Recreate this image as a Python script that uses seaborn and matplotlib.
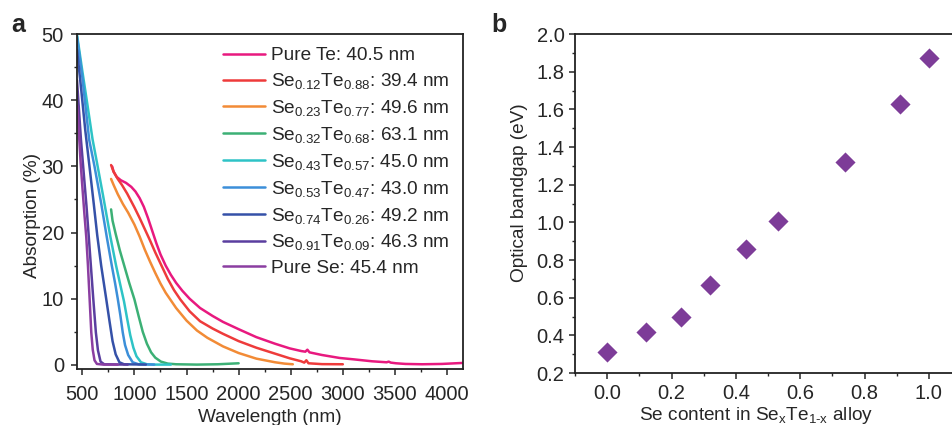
import numpy as np
import pandas as pd
import seaborn as sns
import matplotlib.pyplot as plt
from matplotlib.ticker import MultipleLocator

# ---- panel a: absorption spectra (wavelength in nm, absorption in %) ----
labels = [
    "Pure Te: 40.5 nm",
    r"Se$_{0.12}$Te$_{0.88}$: 39.4 nm",
    r"Se$_{0.23}$Te$_{0.77}$: 49.6 nm",
    r"Se$_{0.32}$Te$_{0.68}$: 63.1 nm",
    r"Se$_{0.43}$Te$_{0.57}$: 45.0 nm",
    r"Se$_{0.53}$Te$_{0.47}$: 43.0 nm",
    r"Se$_{0.74}$Te$_{0.26}$: 49.2 nm",
    r"Se$_{0.91}$Te$_{0.09}$: 46.3 nm",
    "Pure Se: 45.4 nm",
]
colors = ["#E8197F", "#EE3B3B", "#F28B36", "#3CB075", "#2EC3C6",
          "#3C8FD9", "#3551A8", "#5A3E9F", "#8B3EA1"]

te_wl = [786, 800, 830, 870, 920, 970, 1010, 1050, 1090, 1130, 1170, 1210, 1250, 1300,
         1350, 1400, 1460, 1530, 1630, 1750, 1850, 2000, 2170, 2350, 2490, 2600, 2640,
         2660, 2680, 2800, 2970, 3100, 3280, 3420, 3440, 3460, 3510, 3600, 3760, 3950, 4150]
te_abs = [30.0, 29.2, 28.4, 27.9, 27.5, 26.9, 26.2, 25.2, 23.9, 22.2, 20.3, 18.4, 16.7, 15.0,
          13.6, 12.4, 11.2, 10.0, 8.6, 7.4, 6.5, 5.4, 4.2, 3.2, 2.5, 2.1, 2.0,
          2.3, 1.9, 1.5, 1.05, 0.85, 0.55, 0.4, 0.5, 0.35, 0.25, 0.15, 0.1, 0.15, 0.3]

s12_wl = [776, 800, 840, 880, 930, 1000, 1050, 1100, 1150, 1200, 1260, 1320, 1380, 1440,
          1530, 1630, 1750, 1850, 2000, 2170, 2350, 2490, 2600, 2630, 2650, 2670, 2800, 3000]
s12_abs = [30.2, 29.2, 28.1, 27.2, 25.9, 23.8, 22.2, 20.5, 18.8, 17.0, 15.0, 13.0, 11.3, 9.9,
           8.1, 6.6, 5.5, 4.7, 3.6, 2.6, 1.7, 1.0, 0.55, 0.35, 0.7, 0.25, 0.12, 0.1]

s23_wl = [776, 800, 840, 890, 940, 1000, 1050, 1100, 1150, 1200, 1250, 1300, 1400, 1500,
          1600, 1700, 1850, 2000, 2170, 2350, 2440, 2520]
s23_abs = [28.1, 27.2, 25.8, 24.3, 23.0, 21.2, 19.4, 17.4, 15.6, 13.9, 12.3, 10.9, 8.6, 6.7,
           5.2, 4.1, 2.8, 1.8, 0.95, 0.4, 0.2, 0.1]

s32_wl = [776, 790, 820, 860, 904, 950, 1000, 1040, 1080, 1120, 1160, 1200, 1254, 1320,
          1400, 1600, 1800, 2000]
s32_abs = [23.5, 21.8, 19.8, 17.3, 14.9, 12.4, 9.9, 7.4, 5.0, 3.2, 1.9, 1.1, 0.5, 0.2,
           0.1, 0.05, 0.1, 0.25]

s43_wl = [449, 500, 550, 598, 640, 700, 770, 824, 870, 900, 930, 960, 990, 1020, 1063,
          1120, 1200, 1350]
s43_abs = [49.9, 44.4, 39.2, 34.1, 30.6, 25.5, 19.3, 15.0, 11.7, 9.6, 7.0, 4.5, 2.6, 1.3, 0.4,
           0.1, 0.05, 0.05]

s53_wl = [449, 500, 566, 617, 680, 735, 783, 815, 840, 865, 888, 910, 940, 983, 1040, 1190]
s53_abs = [49.6, 43.5, 34.0, 30.0, 24.5, 19.3, 15.0, 12.3, 10.0, 7.5, 4.9, 3.0, 1.5, 0.4,
           0.1, 0.05]

s74_wl = [449, 490, 528, 570, 610, 643, 681, 729, 760, 790, 820, 856, 900, 1110]
s74_abs = [47.6, 41.5, 35.5, 29.8, 24.3, 19.6, 15.0, 10.0, 6.7, 3.6, 1.6, 0.4, 0.1, 0.05]

s91_wl = [449, 487, 516, 540, 560, 582, 605, 630, 650, 675, 710, 936]
s91_abs = [43.0, 34.0, 28.5, 24.0, 19.8, 15.0, 10.0, 4.9, 2.2, 0.5, 0.1, 0.05]

se_wl = [452, 471, 484, 500, 520, 538, 554, 570, 586, 600, 617, 640, 700, 840]
se_abs = [39.1, 34.0, 30.5, 27.0, 22.8, 19.3, 15.0, 10.0, 4.9, 2.3, 0.7, 0.15, 0.05, 0.05]

wavelengths = [te_wl, s12_wl, s23_wl, s32_wl, s43_wl, s53_wl, s74_wl, s91_wl, se_wl]
absorptions = [te_abs, s12_abs, s23_abs, s32_abs, s43_abs, s53_abs, s74_abs, s91_abs, se_abs]

# ---- panel b: optical bandgap vs Se content ----
se_content = [0.0, 0.12, 0.23, 0.32, 0.43, 0.53, 0.74, 0.91, 1.0]
bandgap = [0.31, 0.42, 0.50, 0.67, 0.86, 1.01, 1.32, 1.63, 1.87]


def main():
    sns.set_style("ticks")
    plt.rcParams["font.family"] = ["Liberation Sans", "DejaVu Sans"]
    plt.rcParams["mathtext.fontset"] = "custom"
    plt.rcParams["mathtext.rm"] = "Liberation Sans"
    plt.rcParams["mathtext.it"] = "Liberation Sans:italic"
    plt.rcParams["mathtext.bf"] = "Liberation Sans:bold"
    plt.rcParams["axes.linewidth"] = 1.3
    plt.rcParams["axes.edgecolor"] = "#222222"
    fs = 13.7

    rows = []
    for lab, wl, ab in zip(labels, wavelengths, absorptions):
        for w, a in zip(wl, ab):
            rows.append((lab, w, a))
    df = pd.DataFrame(rows, columns=["sample", "wavelength", "absorption"])

    fig = plt.figure(figsize=(9.52, 4.25), dpi=100)
    ax1 = fig.add_axes([0.081, 0.132, 0.405, 0.788])
    ax2 = fig.add_axes([0.604, 0.122, 0.4055, 0.798])

    sns.lineplot(data=df, x="wavelength", y="absorption", hue="sample", hue_order=labels,
                 palette=colors, sort=False, estimator=None, linewidth=1.8, ax=ax1)
    ax1.set_xlim(450, 4150)
    ax1.set_ylim(-0.6, 50)
    ax1.xaxis.set_major_locator(MultipleLocator(500))
    ax1.xaxis.set_minor_locator(MultipleLocator(250))
    ax1.yaxis.set_major_locator(MultipleLocator(10))
    ax1.yaxis.set_minor_locator(MultipleLocator(5))
    ax1.set_xlabel("Wavelength (nm)", fontsize=fs)
    ax1.set_ylabel("Absorption (%)", fontsize=fs)
    ax1.xaxis.set_label_coords(0.5, -0.12)
    ax1.yaxis.set_label_coords(-0.093, 0.457)
    ax1.tick_params(axis="x", which="major", pad=7)
    ax1.tick_params(axis="y", which="major", pad=5)
    handles, labs = ax1.get_legend_handles_labels()
    ax1.legend(handles, labs, loc="upper right", frameon=False, fontsize=fs,
               handlelength=2.2, handletextpad=0.3, labelspacing=0.36,
               borderaxespad=0.2, bbox_to_anchor=(0.995, 0.995))

    sns.scatterplot(x=se_content, y=bandgap, marker="D", s=105, color="#7D3C98",
                    linewidth=0, ax=ax2)
    ax2.set_xlim(-0.1, 1.1)
    ax2.set_ylim(0.2, 2.0)
    ax2.xaxis.set_major_locator(MultipleLocator(0.2))
    ax2.xaxis.set_minor_locator(MultipleLocator(0.1))
    ax2.yaxis.set_major_locator(MultipleLocator(0.2))
    ax2.yaxis.set_minor_locator(MultipleLocator(0.1))
    ax2.xaxis.set_major_formatter(plt.FuncFormatter(lambda v, p: f"{v:.1f}"))
    ax2.yaxis.set_major_formatter(plt.FuncFormatter(lambda v, p: f"{v:.1f}"))
    ax2.set_xlabel(r"Se content in Se$_\mathrm{x}$Te$_\mathrm{1\text{-}x}$ alloy", fontsize=fs)
    ax2.set_ylabel("Optical bandgap (eV)", fontsize=fs)
    ax2.xaxis.set_label_coords(0.47, -0.095)
    ax2.yaxis.set_label_coords(-0.123, 0.531)
    ax2.tick_params(axis="x", which="major", pad=3)
    ax2.tick_params(axis="y", which="major", pad=3)

    for ax in (ax1, ax2):
        for s in ax.spines.values():
            s.set_visible(True)
        ax.tick_params(which="major", direction="out", length=4.5, width=1.1,
                       labelsize=14.5, top=False, right=False)
        ax.tick_params(which="minor", direction="out", length=2.5, width=1.0,
                       top=False, right=False)

    fig.text(0.012, 0.925, "a", fontsize=18, fontweight="bold")
    fig.text(0.516, 0.925, "b", fontsize=18, fontweight="bold")

    fig.savefig("out.png", dpi=100)


if __name__ == "__main__":
    main()
